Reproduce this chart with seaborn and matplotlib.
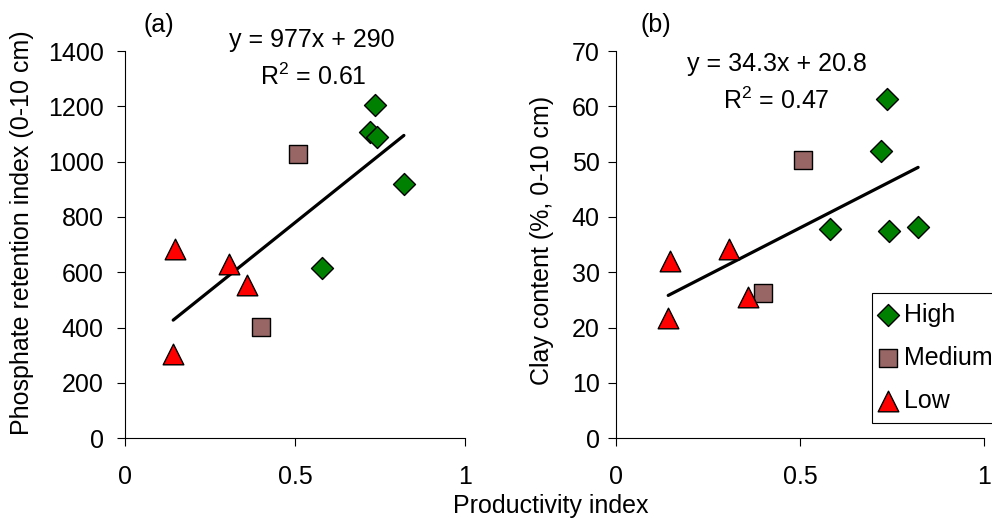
import matplotlib
matplotlib.use("Agg")
import matplotlib.pyplot as plt
import seaborn as sns
import pandas as pd
import numpy as np

# ---------------- data ----------------
groups = ["High", "Medium", "Low"]
high_x = [0.58, 0.72, 0.735, 0.74, 0.82]
high_p = [615, 1106, 1205, 1088, 918]
high_clay = [37.8, 52.0, 61.3, 37.5, 38.2]
med_x = [0.508, 0.398]
med_p = [1028, 401]
med_clay = [50.3, 26.2]
low_x = [0.146, 0.305, 0.358, 0.141]
low_p = [684, 630, 554, 305]
low_clay = [32.1, 34.3, 25.6, 21.7]

xticks = [0, 0.5, 1]
xtick_labels = ["0", "0.5", "1"]
yticks_a = [0, 200, 400, 600, 800, 1000, 1200, 1400]
yticks_b = [0, 10, 20, 30, 40, 50, 60, 70]

eq_a = ["y = 977x + 290", "R$^2$ = 0.61"]
eq_b = ["y = 34.3x + 20.8", "R$^2$ = 0.47"]

df = pd.DataFrame({
    "x": high_x + med_x + low_x,
    "p": high_p + med_p + low_p,
    "clay": high_clay + med_clay + low_clay,
    "group": ["High"] * len(high_x) + ["Medium"] * len(med_x) + ["Low"] * len(low_x),
})

# ---------------- style ----------------
sns.set_style("ticks")
plt.rcParams["font.family"] = ["Liberation Sans", "DejaVu Sans"]
plt.rcParams["mathtext.fontset"] = "custom"
plt.rcParams["mathtext.rm"] = "Liberation Sans"
plt.rcParams["mathtext.it"] = "Liberation Sans"
plt.rcParams["text.color"] = "black"
plt.rcParams["axes.labelcolor"] = "black"
FS = 18

palette = {"High": "#008000", "Medium": "#996666", "Low": "#FF0000"}
markers = {"High": "D", "Medium": "s", "Low": "^"}
sizes = {"High": 125, "Medium": 150, "Low": 220}

fig = plt.figure(figsize=(9.92, 5.18), dpi=100)
ax1 = fig.add_axes([0.1263, 0.1539, 0.3425, 0.7476])
ax2 = fig.add_axes([0.6213, 0.1539, 0.3710, 0.7476])

def draw(ax, ycol, legend):
    sns.regplot(data=df, x="x", y=ycol, ax=ax, scatter=False, ci=None,
                truncate=True, color="black", line_kws={"lw": 2.3})
    for g in groups:
        sub = df[df["group"] == g]
        sns.scatterplot(data=sub, x="x", y=ycol, ax=ax, color=palette[g],
                        marker=markers[g], s=sizes[g], edgecolor="black",
                        linewidth=1.0, label=g, legend=legend, zorder=3)

draw(ax1, "p", False)
draw(ax2, "clay", True)

for ax, yt, ypad in ((ax1, yticks_a, 10), (ax2, yticks_b, 6.5)):
    ax.set_xlim(0, 1)
    ax.set_ylim(yt[0], yt[-1])
    ax.set_xticks(xticks)
    ax.set_xticklabels(xtick_labels)
    ax.set_yticks(yt)
    ax.tick_params(axis="both", labelsize=FS, direction="out", length=5.5,
                   width=0.8, color="black", labelcolor="black")
    ax.tick_params(axis="x", pad=14)
    ax.tick_params(axis="y", pad=ypad)
    for s in ("top", "right"):
        ax.spines[s].set_visible(False)
    for s in ("left", "bottom"):
        ax.spines[s].set_color("black")
        ax.spines[s].set_linewidth(0.8)
    ax.set_xlabel("")

ax1.set_ylabel("Phosphate retention index (0-10 cm)", fontsize=FS, va="center",
               color="black")
ax2.set_ylabel("Clay content (%, 0-10 cm)", fontsize=FS, va="center",
               color="black")
ax1.yaxis.set_label_coords(-0.304, 0.53)
ax2.yaxis.set_label_coords(-0.202, 0.51)

fig.text(551 / 992, 1 - 506 / 518, "Productivity index", fontsize=FS,
         ha="center", va="center")

fig.text(159 / 992, 1 - 25 / 518, "(a)", fontsize=FS, ha="center", va="center")
fig.text(656 / 992, 1 - 25 / 518, "(b)", fontsize=FS, ha="center", va="center")
fig.text(312 / 992, 1 - 40 / 518, eq_a[0], fontsize=FS, ha="center", va="center")
fig.text(313 / 992, 1 - 77 / 518, eq_a[1], fontsize=FS, ha="center", va="center")
fig.text(777 / 992, 1 - 64 / 518, eq_b[0], fontsize=FS, ha="center", va="center")
fig.text(776 / 992, 1 - 101 / 518, eq_b[1], fontsize=FS, ha="center", va="center")

handles, labels = ax2.get_legend_handles_labels()
if ax2.get_legend() is not None:
    ax2.get_legend().remove()
leg = ax2.legend(handles, labels, loc="upper left",
                 bbox_to_anchor=(872 / 992, 1 - 293 / 518),
                 bbox_transform=fig.transFigure, fontsize=FS, frameon=True,
                 fancybox=False, edgecolor="black", framealpha=1,
                 handlelength=0.5, handletextpad=0.4, labelspacing=0.75,
                 borderpad=0.4, borderaxespad=0)
leg.get_frame().set_linewidth(0.8)

fig.savefig("out.png", dpi=100)
